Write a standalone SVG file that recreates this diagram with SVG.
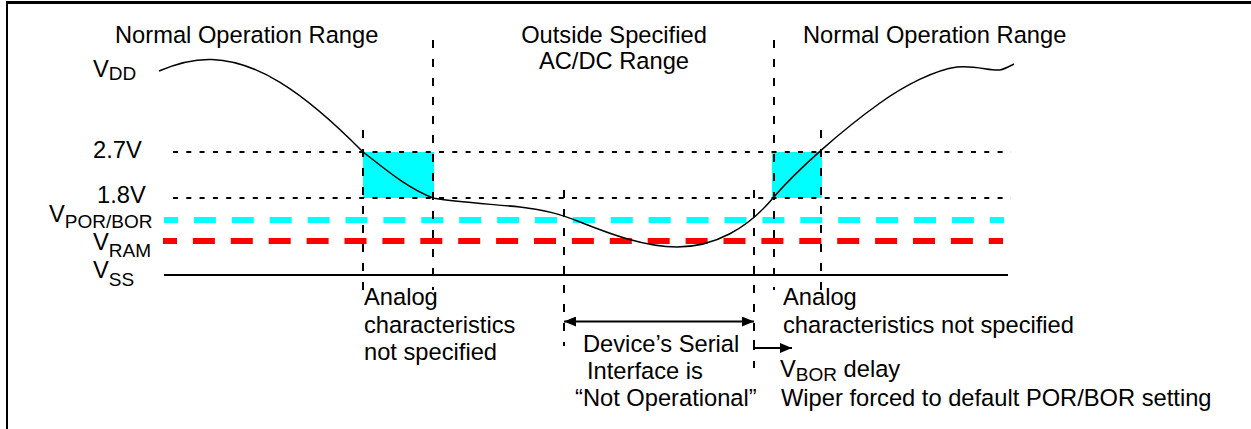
<svg xmlns="http://www.w3.org/2000/svg" width="1251" height="429" viewBox="0 0 1251 429">
<style>
text{font-family:"Liberation Sans",Arial,sans-serif;font-size:23.7px;fill:#000}
.sub{font-size:19px}
.dot{stroke:#000;stroke-width:2;stroke-dasharray:5 8.3;fill:none}
.vdash{stroke:#000;stroke-width:2;stroke-dasharray:8 11;fill:none}
.thick{stroke-width:6;stroke-dasharray:22 15.9;stroke-dashoffset:8;fill:none}
</style>
<defs>
<marker id="ah" markerWidth="12" markerHeight="10" refX="12" refY="5" orient="auto-start-reverse" markerUnits="userSpaceOnUse">
<path d="M0,0 L12,5 L0,10 Z" fill="#000"/>
</marker>
</defs>
<rect width="1251" height="429" fill="#fff"/>
<g id="frame" stroke="#000" fill="none">
<line x1="6" y1="2.5" x2="1251" y2="2.5" stroke-width="3"/>
<line x1="7" y1="1" x2="7" y2="429" stroke-width="2"/>
</g>
<g id="regions">
<rect x="363" y="152" width="71" height="46" fill="#00FFFF"/>
<rect x="772" y="152" width="50" height="46" fill="#00FFFF"/>
</g>
<g id="levels">
<line class="dot" x1="173" y1="152" x2="1011" y2="152"/>
<line class="dot" x1="173" y1="198" x2="1011" y2="198"/>
<line class="thick" x1="164" y1="220" x2="1004" y2="220" stroke="#00FFFF"/>
<line class="thick" x1="163" y1="241" x2="1003" y2="241" stroke="#FF0000"/>
<line x1="164" y1="275" x2="1008" y2="275" stroke="#000" stroke-width="2"/>
</g>
<g id="curve">
<path d="M159,71 C180,62 198,59 212,59.5 C255,61 300,88 363,152 C383,167 405,187 433,198 C455,202 490,204 520,207 C545,210 560,214 580,222 C610,234 645,247 677,247 C715,247 748,228 773,198 C797,170 842,130 880,103 C905,85 935,70 957,67 C975,65 990,71 1000,70 C1005,69 1010,66 1014,64" fill="none" stroke="#000" stroke-width="1.5"/>
</g>
<g id="connectors">
<line class="vdash" x1="363" y1="130" x2="363" y2="290"/>
<line class="vdash" x1="433" y1="40" x2="433" y2="290"/>
<line class="vdash" x1="564" y1="190" x2="564" y2="346"/>
<line class="vdash" x1="754" y1="190" x2="754" y2="368"/>
<line class="vdash" x1="774" y1="40" x2="774" y2="290"/>
<line class="vdash" x1="821" y1="130" x2="821" y2="290"/>
<line x1="564" y1="321.5" x2="754" y2="321.5" stroke="#000" stroke-width="2" marker-start="url(#ah)" marker-end="url(#ah)"/>
<path d="M754,340 V348 H792" fill="none" stroke="#000" stroke-width="2" marker-end="url(#ah)"/>
</g>
<g id="labels">
<text x="115" y="43">Normal Operation Range</text>
<text x="614" y="43" text-anchor="middle">Outside Specified</text>
<text x="614" y="69" text-anchor="middle">AC/DC Range</text>
<text x="803" y="43">Normal Operation Range</text>
<text x="93" y="77">V<tspan class="sub" dy="3">DD</tspan></text>
<text x="93" y="158">2.7V</text>
<text x="97" y="203">1.8V</text>
<text x="49" y="221.5">V<tspan class="sub" dy="6">POR/BOR</tspan></text>
<text x="93" y="250">V<tspan class="sub" dy="6.5">RAM</tspan></text>
<text x="93" y="277.5">V<tspan class="sub" dy="8">SS</tspan></text>
<text x="364" y="305">Analog</text>
<text x="364" y="332.5">characteristics</text>
<text x="364" y="360">not specified</text>
<text x="583" y="352">Device’s Serial</text>
<text x="587" y="379">Interface is</text>
<text x="575" y="406">“Not Operational”</text>
<text x="783" y="305">Analog</text>
<text x="783" y="332.5">characteristics not specified</text>
<text x="780" y="377">V<tspan class="sub" dy="4">BOR</tspan><tspan dy="-4"> delay</tspan></text>
<text x="781" y="406">Wiper forced to default POR/BOR setting</text>
</g>
</svg>
